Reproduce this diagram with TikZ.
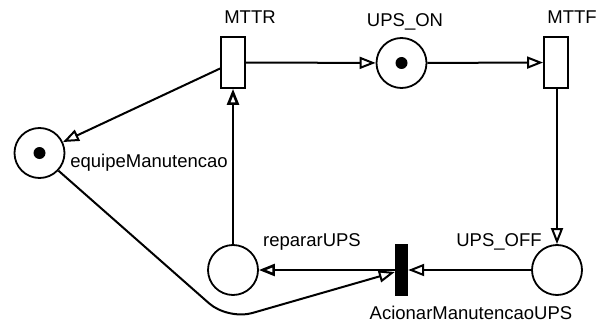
\documentclass[tikz,border=0pt]{standalone}
\usepackage{fontspec}
\setmainfont{Liberation Sans}
\usetikzlibrary{arrows.meta,positioning}

\begin{document}
\begin{tikzpicture}[x=1pt,y=-1pt,>={Triangle[open,length=16pt,width=12pt]},
  place/.style={draw,circle,line width=1.8pt,minimum size=50pt,inner sep=0pt},
  trans/.style={draw,rectangle,line width=1.8pt,minimum width=24pt,minimum height=51pt,inner sep=0pt},
  bar/.style={fill,rectangle,minimum width=13pt,minimum height=52pt,inner sep=0pt},
  arc/.style={->,line width=2pt},
  lbl/.style={font=\fontsize{18.5}{22}\selectfont,inner sep=0pt}]
  \useasboundingbox (0,0) rectangle (607,326);
  % places
  \node[place] (equipe) at (39.5,153) {};
  \node[place] (upsOn) at (401.5,63) {};
  \node[place] (upsOff) at (557,270) {};
  \node[place] (reparar) at (233,270) {};
  \fill (equipe.center) circle (6pt);
  \fill (upsOn.center) circle (6pt);
  % transitions
  \node[trans] (mttr) at (233,62.5) {};
  \node[trans] (mttf) at (556,62.5) {};
  \node[bar] (acionar) at (401.5,270) {};
  % labels
  \node[lbl] (lMttr) at (250,17) {MTTR};
  \node[lbl] (lMttf) at (572,17) {MTTF};
  \node[lbl] (lUpsOn) at (405,22) {UPS\_ON};
  \node[lbl] (lUpsOff) at (499,242) {UPS\_OFF};
  \node[lbl] (lReparar) at (312,242) {repararUPS};
  \node[lbl] (lEquipe) at (149,163) {equipeManutencao};
  \node[lbl] (lAcionar) at (471,313) {AcionarManutencaoUPS};
  % arcs
  \draw[arc] (mttr) -- (upsOn);
  \draw[arc] (upsOn) -- (mttf);
  \draw[arc] (mttf.south -| upsOff) -- (upsOff);
  \draw[arc] (upsOff) -- (acionar);
  \draw[arc,line width=2.6pt] (acionar) -- (reparar);
  \draw[arc,line width=2.6pt] (reparar) -- (mttr);
  \draw[arc] ([yshift=-6pt]mttr.west) -- (equipe);
  \draw[arc,rounded corners=25pt] (equipe.-43) -- (228,320) -- ([yshift=-2pt]acionar.west);
\end{tikzpicture}
\end{document}
